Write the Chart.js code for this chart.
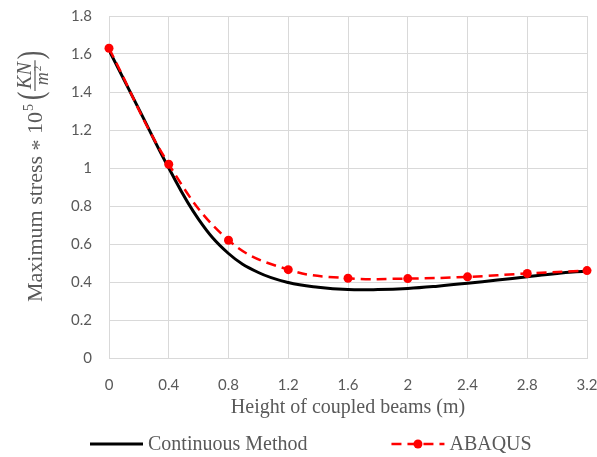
<!DOCTYPE html>
<html>
<head>
<meta charset="utf-8">
<script src="https://cdn.jsdelivr.net/npm/chart.js@4.4.1/dist/chart.umd.min.js"></script>
<style>
  html, body { margin: 0; padding: 0; background: #fff; }
</style>
</head>
<body>
<canvas id="chart" width="597" height="457"></canvas>
<script>
// Height of coupled beams (m)
const abaqusHeights = [0, 0.4, 0.8, 1.2, 1.6, 2.0, 2.4, 2.8, 3.2];
const abaqusStress = [1.63, 1.02, 0.62, 0.465, 0.42, 0.418, 0.427, 0.445, 0.46];

const continuousHeights = [0, 0.2, 0.4, 0.6, 0.8, 1.0, 1.2, 1.4, 1.6, 1.8, 2.0, 2.2, 2.4, 2.6, 2.8, 3.0, 3.2];
const continuousStress = [1.62, 1.31, 1.0, 0.73, 0.55, 0.45, 0.397, 0.372, 0.36, 0.36, 0.366, 0.378, 0.393, 0.41, 0.428, 0.445, 0.458];

const xTicks = [0, 0.4, 0.8, 1.2, 1.6, 2, 2.4, 2.8, 3.2];
const yTicks = [0, 0.2, 0.4, 0.6, 0.8, 1, 1.2, 1.4, 1.6, 1.8];

const TEXT = '#595959';
const GRID = '#d9d9d9';
const SERIF = '"Liberation Serif", "Times New Roman", serif';
const SANS = 'Lato, "Open Sans", sans-serif';

const toPoints = (xs, ys) => xs.map((x, i) => ({ x, y: ys[i] }));

// y title has a superscript and a stacked fraction, so it is drawn by hand
function drawStressTitle(ctx) {
    ctx.save();
    ctx.translate(42, 302);
    ctx.rotate(-Math.PI / 2);
    ctx.fillStyle = TEXT;
    ctx.strokeStyle = TEXT;
    ctx.textAlign = 'left';
    ctx.textBaseline = 'alphabetic';

    let u = 0;
    ctx.font = '22px ' + SERIF;
    const words = 'Maximum stress ';
    ctx.fillText(words, u, 0);
    u += ctx.measureText(words).width;

    // asterisk sits on the math axis, not up high like the text one
    ctx.fillText('*', u, 4);
    u += ctx.measureText('* ').width;

    ctx.fillText('10', u, 0);
    u += ctx.measureText('10').width;

    ctx.font = '14px ' + SERIF;
    ctx.fillText('5', u + 1, -9);
    u += ctx.measureText('5').width + 5;

    // tall, narrow parentheses
    const paren = (ch, at) => {
        ctx.save();
        ctx.translate(at, 0);
        ctx.scale(0.7, 1);
        ctx.font = '36px ' + SERIF;
        ctx.fillText(ch, 0, 0);
        ctx.restore();
    };
    paren('(', u);
    u += 9;

    ctx.font = 'italic 20px ' + SERIF;
    const numW = ctx.measureText('KN').width;
    ctx.font = 'italic 18px ' + SERIF;
    const mW = ctx.measureText('m').width;
    ctx.font = '11px ' + SERIF;
    const supW = ctx.measureText('2').width;
    const denW = mW + supW + 1;
    const w = Math.max(numW, denW) + 4;

    ctx.font = 'italic 20px ' + SERIF;
    ctx.fillText('KN', u + (w - numW) / 2, -11);

    ctx.lineWidth = 1.2;
    ctx.beginPath();
    ctx.moveTo(u, -7);
    ctx.lineTo(u + w, -7);
    ctx.stroke();

    const dx = u + (w - denW) / 2;
    ctx.font = 'italic 18px ' + SERIF;
    ctx.fillText('m', dx, 6);
    ctx.font = '11px ' + SERIF;
    ctx.fillText('2', dx + mW + 1, -1);
    u += w + 1;

    paren(')', u);
    ctx.restore();
}

const stressTitle = {
    id: 'stressTitle',
    afterDraw(chart) {
        drawStressTitle(chart.ctx);
    }
};

// legend under the axis title: line sample, then label
const lineLegend = {
    id: 'lineLegend',
    afterDraw(chart) {
        const ctx = chart.ctx;
        const y = chart.scales.x.bottom + 24;
        const sampleW = 53;
        let x = 90;
        ctx.save();
        ctx.font = '20px ' + SERIF;
        ctx.textBaseline = 'middle';
        ctx.textAlign = 'left';
        chart.data.datasets.forEach((ds) => {
            ctx.strokeStyle = ds.borderColor;
            ctx.lineWidth = ds.borderWidth;
            ctx.setLineDash(ds.borderDash || []);
            ctx.beginPath();
            ctx.moveTo(x, y);
            ctx.lineTo(x + sampleW, y);
            ctx.stroke();
            ctx.setLineDash([]);
            if (ds.pointRadius) {
                ctx.fillStyle = ds.pointBackgroundColor;
                ctx.beginPath();
                ctx.arc(x + sampleW / 2, y, ds.pointRadius, 0, Math.PI * 2);
                ctx.fill();
            }
            ctx.fillStyle = TEXT;
            ctx.fillText(ds.label, x + sampleW + 5, y + 1);
            x += sampleW + 5 + ctx.measureText(ds.label).width + 84;
        });
        ctx.restore();
    }
};

new Chart(document.getElementById('chart'), {
    type: 'line',
    data: {
        datasets: [
            {
                label: 'Continuous Method',
                data: toPoints(continuousHeights, continuousStress),
                borderColor: '#000000',
                borderWidth: 3,
                pointRadius: 0,
                tension: 0.4,
                order: 1
            },
            {
                label: 'ABAQUS',
                data: toPoints(abaqusHeights, abaqusStress),
                borderColor: '#ff0000',
                borderWidth: 2.5,
                borderDash: [10, 6],
                pointRadius: 4.5,
                pointBackgroundColor: '#ff0000',
                pointBorderColor: '#ff0000',
                pointBorderWidth: 0,
                tension: 0.4,
                clip: false,
                order: 0
            }
        ]
    },
    options: {
        responsive: false,
        animation: false,
        layout: { padding: { top: 16, right: 0, bottom: 37, left: 60 } },
        plugins: {
            legend: { display: false },
            tooltip: { enabled: false }
        },
        scales: {
            x: {
                type: 'linear',
                min: 0,
                max: 3.2,
                afterBuildTicks: (scale) => { scale.ticks = xTicks.map((v) => ({ value: v })); },
                // fixed band for tick labels + title; keep the last label hanging near the edge
                afterFit: (scale) => {
                    scale.height = 62;
                    scale.paddingLeft = 0;
                    scale.paddingRight = 10;
                },
                grid: { color: GRID, drawTicks: false },
                border: { color: GRID },
                ticks: {
                    color: TEXT,
                    font: { family: SANS, size: 15 },
                    padding: 18,
                    maxRotation: 0,
                    callback: (v) => String(v)
                },
                title: {
                    display: true,
                    text: 'Height of coupled beams (m)',
                    color: TEXT,
                    font: { family: SERIF, size: 20 },
                    padding: { top: 2, bottom: 0 }
                }
            },
            y: {
                min: 0,
                max: 1.8,
                afterBuildTicks: (scale) => { scale.ticks = yTicks.map((v) => ({ value: v })); },
                afterFit: (scale) => {
                    scale.width = 49;
                    scale.paddingTop = 0;
                    scale.paddingBottom = 0;
                },
                grid: { color: GRID, drawTicks: false },
                border: { color: GRID },
                ticks: {
                    color: TEXT,
                    font: { family: SANS, size: 15 },
                    padding: 17,
                    callback: (v) => String(v)
                }
            }
        }
    },
    plugins: [stressTitle, lineLegend]
});
</script>
</body>
</html>
